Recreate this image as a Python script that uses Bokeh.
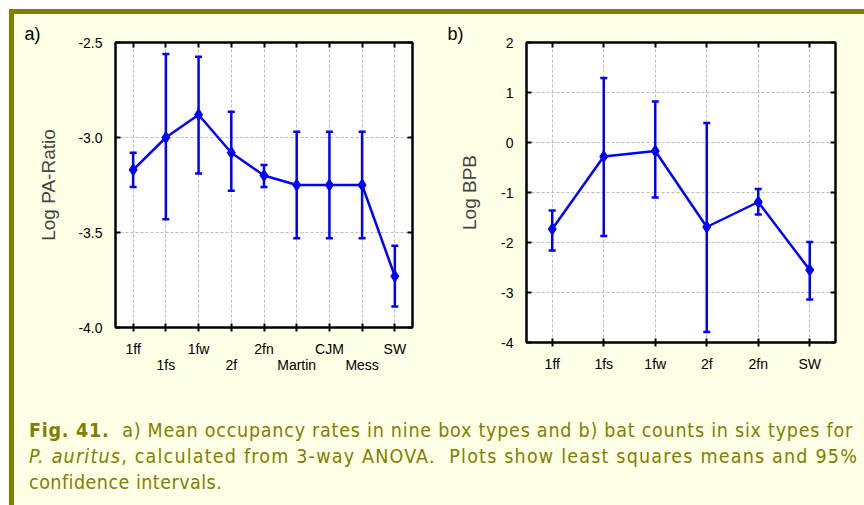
from bokeh.plotting import figure
from bokeh.models import (ColumnDataSource, Whisker, TeeHead, LinearAxis, FixedTicker,
                          Div, Range1d, PrintfTickFormatter)
from bokeh.layouts import row, column
from bokeh.embed import file_html
from bokeh.resources import INLINE

# ---- data: panel a) Log PA-Ratio, nine box types ----
cats_a = ["1ff", "1fs", "1fw", "2f", "2fn", "Martin", "CJM", "Mess", "SW"]
mean_a = [-3.17, -3.00, -2.88, -3.08, -3.20, -3.25, -3.25, -3.25, -3.73]
upper_a = [-3.08, -2.56, -2.575, -2.865, -3.145, -2.97, -2.97, -2.97, -3.57]
lower_a = [-3.26, -3.43, -3.19, -3.28, -3.26, -3.53, -3.53, -3.53, -3.89]
yticks_a = [-4.0, -3.5, -3.0, -2.5]

# ---- data: panel b) Log BPB, six box types ----
cats_b = ["1ff", "1fs", "1fw", "2f", "2fn", "SW"]
mean_b = [-1.73, -0.28, -0.17, -1.69, -1.19, -2.55]
upper_b = [-1.36, 1.29, 0.82, 0.39, -0.93, -1.99]
lower_b = [-2.16, -1.87, -1.10, -3.79, -1.44, -3.14]
yticks_b = [-4, -3, -2, -1, 0, 1, 2]

BG = "#FFFFE6"
OLIVE = "#808000"
BLUE = "#0000FF"
FONT = "Liberation Sans"


def panel(cats, mean, upper, lower, yticks, yfmt, ylabel, letter, width, height,
          mb, stagger, ylab_standoff, letter_offset, xpad):
    n = len(cats)
    xs = list(range(n))
    p = figure(width=width, height=height, output_backend="svg", toolbar_location=None,
               x_range=Range1d(-xpad, n - 1 + xpad), y_range=Range1d(yticks[0], yticks[-1]),
               min_border_left=mb[0], min_border_right=mb[1],
               min_border_top=mb[2], min_border_bottom=mb[3])
    p.background_fill_color = "white"
    p.border_fill_color = BG
    p.outline_line_color = "black"
    p.outline_line_width = 2

    # panel letter as the title
    p.title.text = letter
    p.title.align = "left"
    p.title.offset = letter_offset
    p.title.standoff = -3
    p.title.text_font = FONT
    p.title.text_font_size = "18px"
    p.title.text_font_style = "normal"
    p.title.text_color = "black"

    # axes
    xa = p.xaxis[0]
    xa.ticker = FixedTicker(ticks=xs)
    if stagger:
        xa.major_label_overrides = {i: (c if i % 2 == 0 else "\n" + c) for i, c in enumerate(cats)}
    else:
        xa.major_label_overrides = {i: c for i, c in enumerate(cats)}
    ya = p.yaxis[0]
    ya.ticker = FixedTicker(ticks=yticks)
    ya.formatter = PrintfTickFormatter(format=yfmt)
    ya.axis_label = ylabel
    ya.axis_label_text_font = FONT
    ya.axis_label_text_font_style = "normal"
    ya.axis_label_text_font_size = "19px"
    ya.axis_label_standoff = ylab_standoff
    for ax in (xa, ya):
        ax.axis_line_width = 2
        ax.major_tick_line_width = 2
        ax.minor_tick_line_color = None
        ax.major_label_text_font = FONT
        ax.major_label_text_font_size = "14px"
        ax.major_label_text_color = "black"
    xa.major_tick_in = 4
    xa.major_tick_out = 4
    xa.major_label_standoff = 9
    xa.major_label_text_line_height = 1.0
    ya.major_tick_in = 5
    ya.major_tick_out = 0
    ya.major_label_standoff = 13

    # mirrored tick marks on right and top (no labels)
    ra = LinearAxis(ticker=FixedTicker(ticks=yticks), major_label_text_color=None,
                    major_label_text_font_size="1px",
                    major_tick_in=5, major_tick_out=0, major_tick_line_width=2,
                    minor_tick_line_color=None, axis_line_width=2, major_label_standoff=0)
    ta = LinearAxis(ticker=FixedTicker(ticks=xs), major_label_text_color=None,
                    major_label_text_font_size="1px",
                    major_tick_in=5, major_tick_out=0, major_tick_line_width=2,
                    minor_tick_line_color=None, axis_line_width=2, major_label_standoff=0)
    p.add_layout(ra, "right")
    p.add_layout(ta, "above")

    # grid
    for g in (p.xgrid[0], p.ygrid[0]):
        g.grid_line_color = "#BDBDBD"
        g.grid_line_dash = "3 2"
        g.grid_line_width = 1

    src = ColumnDataSource(dict(x=xs, m=mean, up=upper, lo=lower))
    p.line("x", "m", source=src, line_color=BLUE, line_width=2.5)
    p.add_layout(Whisker(base="x", upper="up", lower="lo", source=src,
                         line_color=BLUE, line_width=2.5,
                         upper_head=TeeHead(size=7, line_color=BLUE, line_width=2.5),
                         lower_head=TeeHead(size=7, line_color=BLUE, line_width=2.5)))
    p.scatter("x", "m", source=src, marker="diamond", size=12, fill_color=BLUE,
              line_color=BLUE)
    return p


pa = panel(cats_a, mean_a, upper_a, lower_a, yticks_a, "%.1f", "Log PA-Ratio", "a)",
           416, 366, (101, 18, 28, 53), True, 16, -91, 0.54)
pb = panel(cats_b, mean_b, upper_b, lower_b, yticks_b, "%d", "Log BPB", "b)",
           434, 366, (96, 29, 28, 38), False, 18, -79, 0.5)

caption_html = (
    '<div style="padding:33px 0 0 10px; font-family:\'DejaVu Sans Condensed\',\'DejaVu Sans\',sans-serif;'
    ' font-size:19.5px; line-height:26px; color:#808000; white-space:nowrap;">'
    '<span style="letter-spacing:0.76px;"><b>Fig. 41.</b>&nbsp; a) Mean occupancy rates in nine box types'
    ' and b) bat counts in six types for</span><br>'
    '<span style="letter-spacing:1.2px;"><i>P. auritus</i>, calculated from 3-way ANOVA.&nbsp; Plots show'
    ' least squares means and 95%</span><br>'
    '<span style="letter-spacing:0.48px;">confidence intervals.</span></div>'
)
cap = Div(text=caption_html, width=850, height=125)

layout = column(row(column(pa), column(pb)), cap, styles={
    "background-color": BG,
    "border-top": "5px solid " + OLIVE,
    "border-left": "5px solid " + OLIVE,
    "margin-top": "9px",
    "margin-left": "9px",
})

open("out.html", "w").write(file_html(layout, INLINE))
